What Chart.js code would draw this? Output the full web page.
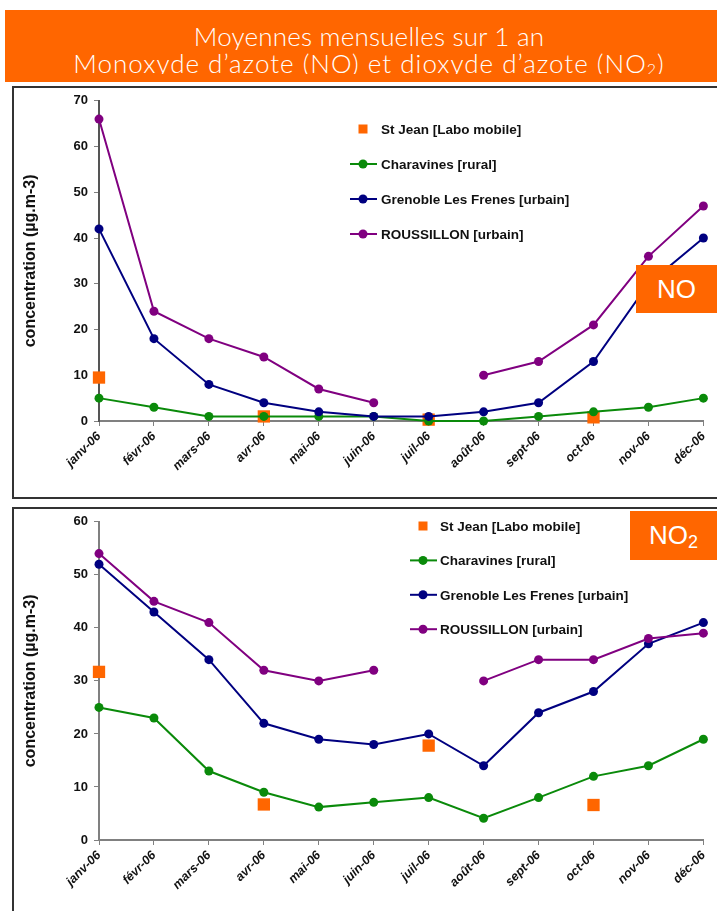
<!DOCTYPE html>
<html>
<head>
<meta charset="utf-8">
<script src="https://cdn.jsdelivr.net/npm/chart.js@4.4.1/dist/chart.umd.min.js"></script>
<style>
    body { margin: 0; width: 717px; height: 911px; overflow: hidden; background: #fff; position: relative; }
    #banner { position: absolute; left: 5px; top: 10px; width: 712px; height: 72px; background: #ff6600; color: #fff;
              text-align: center; font-family: "Lato", "Open Sans", sans-serif; font-weight: 300; font-size: 26px; }
    #banner .line { position: absolute; left: 16px; right: 0; line-height: 28px; white-space: nowrap; overflow: hidden; }
    #banner sub { font-size: 16px; vertical-align: -2px; }
    .panel { position: absolute; left: 12px; width: 720px; border: 2px solid #333; box-sizing: border-box; }
    canvas { position: absolute; left: 12px; }
    .tag { position: absolute; background: #ff6600; color: #fff; font-family: "Liberation Sans", Arial, sans-serif;
           font-size: 26px; display: flex; align-items: center; justify-content: center; }
    .tag .sub { font-size: 18px; position: relative; top: 7px; }
</style>
</head>
<body>
<div id="banner">
    <div class="line" style="top: 12px; letter-spacing: 0.2px;">Moyennes mensuelles sur 1 an</div>
    <div class="line" style="top: 39px; height: 25px; letter-spacing: 1px;">Monoxyde d’azote (NO) et dioxyde d’azote (NO<sub>2</sub>)</div>
</div>
<div class="panel" style="top: 86px; height: 413px;"></div>
<div class="panel" style="top: 507px; height: 420px;"></div>
<canvas id="chart-no" width="705" height="411" style="top: 87px;"></canvas>
<canvas id="chart-no2" width="705" height="403" style="top: 508px;"></canvas>
<div class="tag" style="left: 636px; top: 265px; width: 81px; height: 48px;">NO</div>
<div class="tag" style="left: 630px; top: 511px; width: 87px; height: 49px;">NO<span class="sub">2</span></div>

<script>
// Months on the x axis
const months = ['janv-06', 'févr-06', 'mars-06', 'avr-06', 'mai-06', 'juin-06',
                'juil-06', 'août-06', 'sept-06', 'oct-06', 'nov-06', 'déc-06'];
const stations = ['St Jean [Labo mobile]', 'Charavines [rural]', 'Grenoble Les Frenes [urbain]', 'ROUSSILLON [urbain]'];

// NO monthly means (µg/m3)
const noStJean = [9.5, null, null, 1, null, null, 0.3, null, null, 0.8, null, null];
const noCharavines = [5, 3, 1, 1, 1, 1, 0, 0, 1, 2, 3, 5];
const noGrenoble = [42, 18, 8, 4, 2, 1, 1, 2, 4, 13, 30, 40];
const noRoussillon = [66, 24, 18, 14, 7, 4, null, 10, 13, 21, 36, 47];
const noTicks = [0, 10, 20, 30, 40, 50, 60, 70];

// NO2 monthly means (µg/m3)
const no2StJean = [31.7, null, null, 6.7, null, null, 17.8, null, null, 6.6, null, null];
const no2Charavines = [25, 23, 13, 9, 6.2, 7.1, 8, 4.1, 8, 12, 14, 19];
const no2Grenoble = [52, 43, 34, 22, 19, 18, 20, 14, 24, 28, 37, 41];
const no2Roussillon = [54, 45, 41, 32, 30, 32, null, 30, 34, 34, 38, 39];
const no2Ticks = [0, 10, 20, 30, 40, 50, 60];

const FONT = '"Liberation Sans", Arial, sans-serif';
const ORANGE = '#ff6600';
const GREEN = '#0a8a0a';
const NAVY = '#000080';
const PURPLE = '#800080';

Chart.defaults.font.family = FONT;
Chart.defaults.color = '#111';

// Legend drawn inside the plot area, like the original spreadsheet chart
const insideLegend = {
    id: 'insideLegend',
    afterDatasetsDraw(chart, args, opts) {
        const ctx = chart.ctx;
        ctx.save();
        ctx.font = 'bold 13.5px ' + FONT;
        ctx.textBaseline = 'middle';
        chart.data.datasets.forEach((ds, i) => {
            const y = opts.y + i * opts.rowGap;
            if (ds.showLine === false) {
                ctx.fillStyle = ds.backgroundColor;
                ctx.fillRect(opts.x - 4.5, y - 4.5, 9, 9);
            } else {
                ctx.strokeStyle = ds.borderColor;
                ctx.lineWidth = 2;
                ctx.beginPath();
                ctx.moveTo(opts.x - 13, y);
                ctx.lineTo(opts.x + 14, y);
                ctx.stroke();
                ctx.fillStyle = ds.borderColor;
                ctx.beginPath();
                ctx.arc(opts.x, y, 4.5, 0, Math.PI * 2);
                ctx.fill();
            }
            ctx.fillStyle = '#111';
            ctx.fillText(ds.label, opts.textX, y + 1);
        });
        ctx.restore();
    }
};

function lineSet(label, data, color, order) {
    return {
        label: label, data: data, borderColor: color, backgroundColor: color,
        borderWidth: 2, pointRadius: 4.5, pointHoverRadius: 4.5, pointBorderWidth: 0,
        order: order, clip: false, spanGaps: false
    };
}

function buildChart(canvasId, series, ticks, layout) {
    const datasets = [
        {
            label: stations[0], data: series[0], showLine: false, pointStyle: 'rect',
            pointRadius: 8.7, pointHoverRadius: 8.7, pointBorderWidth: 0,
            backgroundColor: ORANGE, borderColor: ORANGE, order: 4, clip: false
        },
        lineSet(stations[1], series[1], GREEN, 3),
        lineSet(stations[2], series[2], NAVY, 2),
        lineSet(stations[3], series[3], PURPLE, 1)
    ];

    return new Chart(document.getElementById(canvasId), {
        type: 'line',
        data: { labels: months, datasets: datasets },
        plugins: [insideLegend],
        options: {
            responsive: false,
            animation: false,
            layout: { padding: { top: 12, right: layout.right, left: 0, bottom: 0 } },
            plugins: {
                legend: { display: false },
                tooltip: { enabled: false },
                insideLegend: layout.legend
            },
            scales: {
                x: {
                    type: 'category',
                    offset: false,
                    ticks: {
                        autoSkip: false, maxRotation: 45, minRotation: 45, padding: 3,
                        font: { size: 12.5, weight: 'bold', style: 'italic' }
                    },
                    grid: { drawOnChartArea: false, tickLength: 5, color: '#808080' },
                    border: { color: '#808080', width: 2 },
                    afterFit(scale) { scale.height = layout.xHeight; }
                },
                y: {
                    min: ticks[0],
                    max: ticks[ticks.length - 1],
                    afterBuildTicks(scale) { scale.ticks = ticks.map(v => ({ value: v })); },
                    ticks: { padding: 6, font: { size: 13, weight: 'bold' } },
                    grid: { drawOnChartArea: false, tickLength: 5, color: '#808080' },
                    border: { color: layout.yAxisColor, width: 2 },
                    title: {
                        display: true, text: 'concentration (µg.m-3)', color: '#111',
                        font: { size: 16, weight: 'bold' }, padding: { top: 9, bottom: 0 }
                    },
                    afterFit(scale) { scale.width = 87; }
                }
            }
        }
    });
}

buildChart('chart-no', [noStJean, noCharavines, noGrenoble, noRoussillon], noTicks, {
    right: 6, xHeight: 77, yAxisColor: '#555',
    legend: { x: 351, textX: 369, y: 42, rowGap: 35 }
});
buildChart('chart-no2', [no2StJean, no2Charavines, no2Grenoble, no2Roussillon], no2Ticks, {
    right: 11, xHeight: 71, yAxisColor: '#808080',
    legend: { x: 411, textX: 428, y: 18, rowGap: 34.4 }
});
</script>
</body>
</html>
